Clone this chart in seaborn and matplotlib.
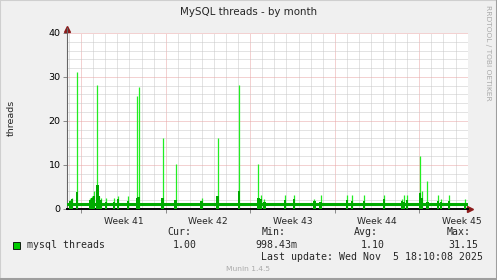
import numpy as np
import pandas as pd
import matplotlib
matplotlib.use("Agg")
import matplotlib.pyplot as plt
import seaborn as sns

# ---- data (days since start of window) ----
span_days = 33.2
baseline = 1.0
spike_day = [0.25, 0.41, 0.85, 1.91, 2.07, 2.24, 2.51, 2.65, 2.82, 3.23, 3.89, 4.23,
             5.05, 5.80, 5.92, 7.91, 8.99, 11.14, 12.47, 14.25, 15.85, 16.05, 16.35,
             18.06, 18.81, 20.49, 20.99, 23.20, 23.61, 24.61, 26.26, 27.73, 27.92,
             28.14, 29.25, 29.41, 29.83, 30.74, 30.96, 31.65, 32.97]
spike_max = [2.0, 2.4, 31.15, 2.5, 3.0, 4.0, 28.2, 3.0, 2.4, 2.4, 2.4, 3.0,
             3.0, 25.6, 27.6, 16.1, 10.1, 2.4, 16.1, 28.2, 10.1, 3.1, 2.1,
             3.1, 3.1, 2.2, 3.1, 3.1, 3.1, 3.1, 3.1, 2.2, 3.1,
             3.1, 11.9, 4.0, 6.2, 3.1, 2.2, 3.1, 2.2]
spike_avg = [1.8, 2.2, 3.9, 2.0, 2.4, 2.8, 5.4, 3.0, 2.0, 1.5, 1.5, 2.2,
             1.8, 2.4, 2.7, 2.4, 2.0, 1.8, 2.9, 4.1, 2.4, 2.2, 1.6,
             1.9, 2.2, 1.8, 1.5, 2.0, 1.7, 1.7, 2.2, 1.7, 1.5,
             2.0, 3.5, 2.5, 1.5, 1.7, 1.5, 1.7, 1.3]
week_start = 1.17
week_labels = ["Week 41", "Week 42", "Week 43", "Week 44", "Week 45"]
y_ticks = [0, 10, 20, 30, 40]
legend_stats = [("Cur:", "1.00"), ("Min:", "998.43m"), ("Avg:", "1.10"), ("Max:", "31.15")]

# ---- style ----
sns.set_theme(style="white")
plt.rcParams['font.family'] = ['DejaVu Sans']

W, H = 497, 280
fig = plt.figure(figsize=(W / 100, H / 100), dpi=100, facecolor='#F0F0F0')
L, R, T, B = 67, 468, 33, 208.7
ax = fig.add_axes([L / W, 1 - B / H, (R - L) / W, (B - T) / H])
ax.set_facecolor('white')

dark = '#00AA00'
light = '#22EE22'

# baseline series on a 2-hour grid
days = np.arange(0, span_days, 1 / 12)
df = pd.DataFrame({"day": days, "threads": np.full(len(days), baseline)})
sns.lineplot(data=df, x="day", y="threads", ax=ax, color=dark, lw=2.2, zorder=3)
# spikes
ax.vlines(spike_day, 0, spike_max, color=light, lw=0.9, zorder=2)
ax.bar(spike_day, spike_avg, width=0.2, color=dark, lw=0, zorder=4)

ax.set_xlim(0, span_days)
ax.set_ylim(0, 40)

# grid
weeks = [week_start + 7 * i for i in range(len(week_labels))]
days_grid = np.arange(week_start - 1, span_days, 1.0)
ax.set_xticks(weeks)
ax.set_xticklabels([])
ax.set_xticks(days_grid, minor=True)
ax.set_yticks(y_ticks)
ax.set_yticklabels([str(v) for v in y_ticks], fontsize=6.8, color='black')
ax.set_yticks(np.arange(0, 41, 2), minor=True)
ax.grid(which='minor', color='#C8C8C8', ls=(0, (1, 1)), lw=0.72)
ax.grid(which='major', color='#E8A4A4', ls=(0, (1, 1)), lw=0.72)
ax.set_axisbelow(True)
ax.tick_params(axis='both', which='major', length=3, width=0.7, color='#888888',
               direction='out', pad=1.5, bottom=True, left=True)
ax.tick_params(axis='both', which='minor', length=0)

for wx, lab in zip(weeks, week_labels):
    ax.text(wx + 3.5, -0.045, lab, transform=ax.get_xaxis_transform(),
            ha='center', va='top', fontsize=6.6)

for s in ['top', 'right']:
    ax.spines[s].set_visible(False)
ax.spines['left'].set_color('#666666')
ax.spines['left'].set_linewidth(0.8)
ax.spines['left'].set_bounds(0, 41.2)
ax.spines['bottom'].set_color('black')
ax.spines['bottom'].set_linewidth(1.4)
ax.plot(0, 1.025, marker='^', color='#8B1A1A', ms=4, transform=ax.transAxes, clip_on=False)
ax.plot(1.006, 0, marker='>', color='#8B1A1A', ms=4, transform=ax.transAxes, clip_on=False)

ax.set_xlabel("")
ax.set_ylabel("")

# titles / labels
fig.text(249 / W, 1 - 12 / H, "MySQL threads - by month", ha='center', va='center', fontsize=7.4)
fig.text(11 / W, 1 - 118 / H, "threads", rotation=90, ha='center', va='center', fontsize=6.8)
fig.text(488 / W, 1 - 5 / H, "RRDTOOL / TOBI OETIKER", rotation=270, ha='center', va='top',
         fontsize=5.4, color='#AAAAAA')

# legend
mono = 'DejaVu Sans Mono'
fig.patches.append(plt.Rectangle((12.7 / W, 1 - 249 / H), 7.3 / W, 7.3 / H,
                                 transform=fig.transFigure, facecolor='#00CC00',
                                 edgecolor='black', lw=0.6))
fig.text(26.7 / W, 1 - 245 / H, "mysql threads", family=mono, fontsize=7.1, va='center')
head_x = [167.7, 261.7, 354.0, 447.0]
val_x = [173.0, 255.0, 360.7, 448.0]
for (h, v), hx, vx in zip(legend_stats, head_x, val_x):
    fig.text(hx / W, 1 - 232.3 / H, h, family=mono, fontsize=7.1, va='center')
    fig.text(vx / W, 1 - 245 / H, v, family=mono, fontsize=7.1, va='center')
fig.text(261 / W, 1 - 256.7 / H, "Last update: Wed Nov  5 18:10:08 2025", family=mono,
         fontsize=7.1, va='center')
fig.text(248.5 / W, 1 - 268.7 / H, "Munin 1.4.5", ha='center', va='center', fontsize=5.4,
         color='#AAAAAA')

# frame bevel
fig.add_artist(plt.Line2D([0, 0, 1], [0, 1, 1], transform=fig.transFigure, color='#CFCFCF', lw=1.5))
fig.add_artist(plt.Line2D([0, 1, 1], [0.002, 0.002, 1], transform=fig.transFigure, color='#9E9E9E', lw=2.2))

fig.savefig("out.png", dpi=100, facecolor=fig.get_facecolor())
